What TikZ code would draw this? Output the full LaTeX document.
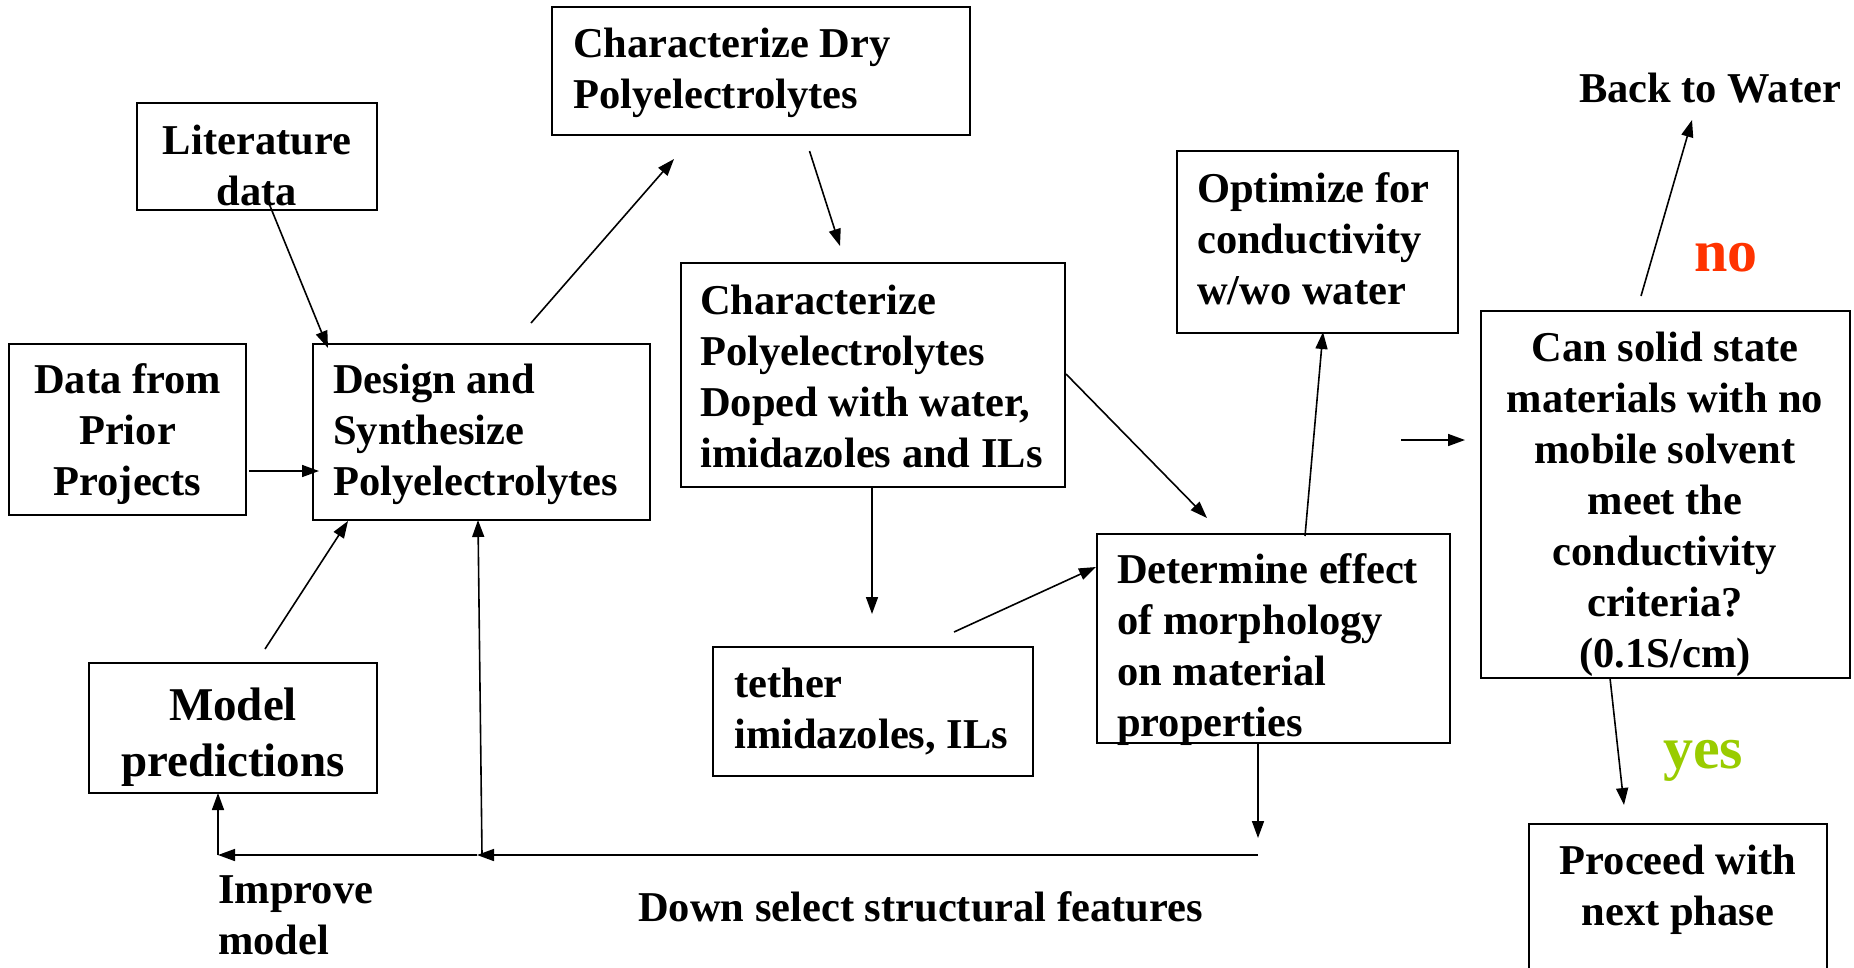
\documentclass[tikz,border=0pt]{standalone}
\usepackage{fontspec}
\setmainfont{Liberation Serif}
\usetikzlibrary{arrows.meta}
\definecolor{noRed}{HTML}{FF3300}
\definecolor{yesGreen}{HTML}{99CC00}
\newcommand\bodyfont{\bfseries\fontsize{42.5}{51}\selectfont}
\newcommand\modelfont{\bfseries\fontsize{47}{56.5}\selectfont}
\newcommand\bigfont{\bfseries\fontsize{60}{72}\selectfont}
\newcommand\linesL[1]{\begin{tabular}[t]{@{}l@{}}#1\end{tabular}}
\newcommand\linesC[1]{\begin{tabular}[t]{@{}c@{}}#1\end{tabular}}
\begin{document}
\begin{tikzpicture}[x=1pt,y=-1pt,
  box/.style={draw, line width=2.2pt, inner sep=0pt},
  txt/.style={inner sep=0pt, font=\bodyfont},
  arr/.style={line width=1.6pt, -{Triangle[length=17pt,width=12pt]}}]
\useasboundingbox (0,0) rectangle (1854,967);
% boxes
\node[box, minimum width=240pt, minimum height=107pt] (lit) at (257,156.5) {};
\node[box, minimum width=237pt, minimum height=171pt] (data) at (127.5,429.5) {};
\node[box, minimum width=337pt, minimum height=176pt] (design) at (481.5,432) {};
\node[box, minimum width=418pt, minimum height=128pt] (dry) at (761,71) {};
\node[box, minimum width=384pt, minimum height=224pt] (doped) at (873,375) {};
\node[box, minimum width=281pt, minimum height=182pt] (opt) at (1317.5,242) {};
\node[box, minimum width=369pt, minimum height=367pt] (can) at (1665.5,494.5) {};
\node[box, minimum width=298pt, minimum height=200pt] (proceed) at (1678,924) {};
\node[box, minimum width=353pt, minimum height=209pt] (det) at (1273.5,638.5) {};
\node[box, minimum width=320pt, minimum height=129pt] (tether) at (873,711.5) {};
\node[box, minimum width=288pt, minimum height=130pt] (model) at (233,728) {};
% texts
\node[txt, anchor=base] (litT) at (257,154) {\linesC{Literature\\data}};
\node[txt, anchor=base] (dataT) at (127.5,393) {\linesC{Data from\\Prior\\Projects}};
\node[txt, anchor=base west] (designT) at (333,393) {\linesL{Design and\\Synthesize\\Polyelectrolytes}};
\node[txt, anchor=base west] (dryT) at (573,57) {\linesL{Characterize Dry\\Polyelectrolytes}};
\node[txt, anchor=base west] (dopedT) at (700,314) {\linesL{Characterize\\Polyelectrolytes\\Doped with water,\\imidazoles and ILs}};
\node[txt, anchor=base west] (optT) at (1197,202) {\linesL{Optimize for\\conductivity\\w/wo water}};
\node[txt, anchor=base] (canT) at (1665,361) {\linesC{Can solid state\\materials with no\\mobile solvent\\meet the\\conductivity\\criteria?\\(0.1S/cm)}};
\node[txt, anchor=base] (backT) at (1710,102) {Back to Water};
\node[txt, anchor=base, font=\bigfont, text=noRed] (noT) at (1726,271) {no};
\node[txt, anchor=base, font=\bigfont, text=yesGreen] (yesT) at (1703,768) {yes};
\node[txt, anchor=base] (procT) at (1678,874) {\linesC{Proceed with\\next phase}};
\node[txt, anchor=base west] (detT) at (1117,583) {\linesL{Determine effect\\of morphology\\on material\\properties}};
\node[txt, anchor=base west] (tetherT) at (734,697) {\linesL{tether\\imidazoles, ILs}};
\node[txt, anchor=base, font=\modelfont] (modelT) at (233,720) {\linesC{Model\\predictions}};
\node[txt, anchor=base west] (impT) at (218,903) {\linesL{Improve\\model}};
\node[txt, anchor=base west] (downT) at (638,921) {Down select structural features};
% connector end points
\coordinate (litOut) at (268,201);
\coordinate (designInLit) at (328,348);
\coordinate (dataOut) at (249,471);
\coordinate (designInData) at (319,471);
\coordinate (designOut) at (531,323);
\coordinate (dryIn) at (674,159);
\coordinate (dryOut) at (809.5,151);
\coordinate (dopedIn) at (840,246);
\coordinate (dopedOutR) at (1066,374);
\coordinate (detInTop) at (1207,518);
\coordinate (dopedOutB) at (872,487);
\coordinate (tetherIn) at (872,614);
\coordinate (tetherOut) at (954,632);
\coordinate (detInL) at (1096,567);
\coordinate (detOutT) at (1305,536);
\coordinate (optIn) at (1323,332);
\coordinate (canFree) at (1401,440);
\coordinate (canIn) at (1465,440);
\coordinate (canOutT) at (1641,296);
\coordinate (backIn) at (1692,120);
\coordinate (canOutB) at (1610,678);
\coordinate (procIn) at (1624,805);
\coordinate (detOutB) at (1258,743);
\coordinate (detDownTip) at (1258,838);
\coordinate (loopR) at (1258,855);
\coordinate (loopM) at (477,855);
\coordinate (loopMb) at (482,855);
\coordinate (designInB) at (478,520);
\coordinate (loopL) at (218,855);
\coordinate (modelIn) at (218,793);
\coordinate (modelOut) at (265,649);
\coordinate (designInModel) at (348,521);
% connectors
\draw[arr] (litOut) -- (designInLit);
\draw[arr] (dataOut) -- (designInData);
\draw[arr] (designOut) -- (dryIn);
\draw[arr] (dryOut) -- (dopedIn);
\draw[arr] (dopedOutR) -- (detInTop);
\draw[arr] (dopedOutB) -- (tetherIn);
\draw[arr] (tetherOut) -- (detInL);
\draw[arr] (detOutT) -- (optIn);
\draw[arr] (canFree) -- (canIn);
\draw[arr] (canOutT) -- (backIn);
\draw[arr] (canOutB) -- (procIn);
\draw[arr] (detOutB) -- (detDownTip);
\draw[arr] (loopR) -- (loopM);
\draw[arr] (loopM) -- (loopL);
\draw[arr] (loopMb) -- (designInB);
\draw[arr] (loopL) -- (modelIn);
\draw[arr] (modelOut) -- (designInModel);
\end{tikzpicture}
\end{document}
